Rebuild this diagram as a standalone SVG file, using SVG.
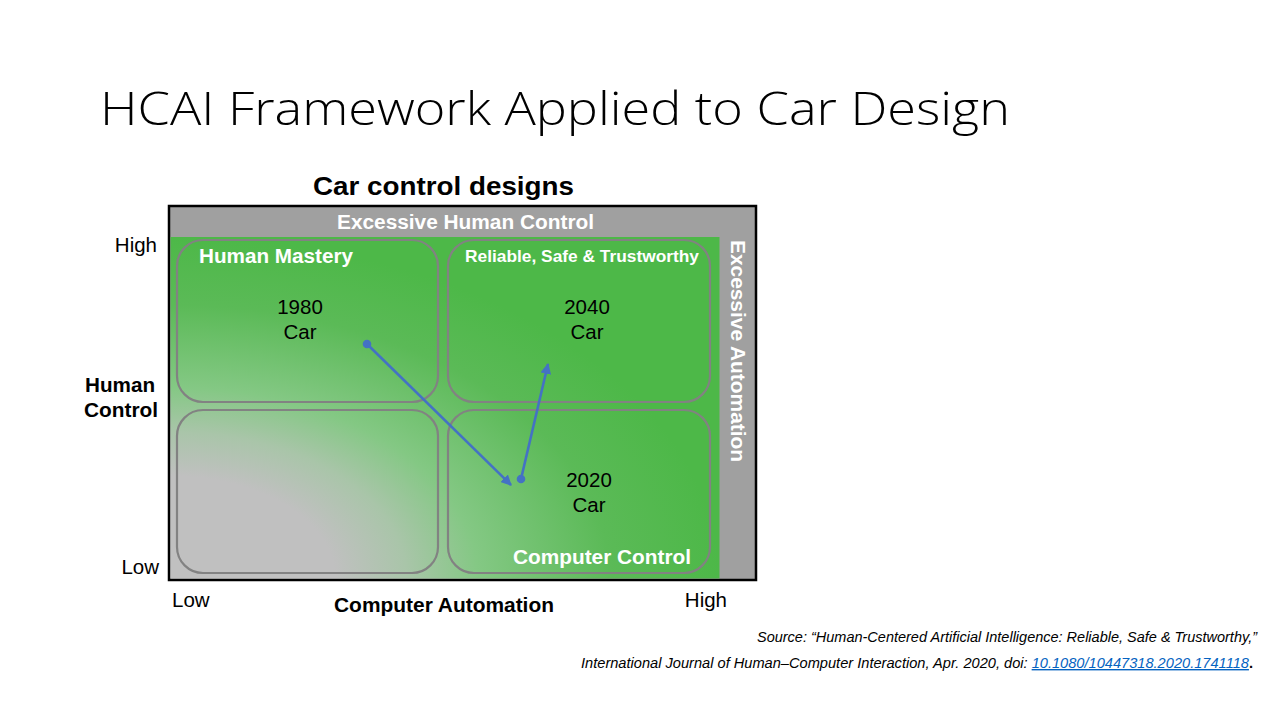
<svg xmlns="http://www.w3.org/2000/svg" width="1280" height="720" viewBox="0 0 1280 720">
  <style>
    .title { font-family: "Open Sans", "Liberation Sans", sans-serif; font-weight: 300; font-size: 46px; fill: #000; }
    .sans { font-family: "Liberation Sans", Arial, sans-serif; }
    .head { font-weight: bold; font-size: 25px; fill: #000; }
    .band { font-weight: bold; font-size: 20px; fill: #fff; }
    .quad { font-weight: bold; font-size: 20px; fill: #fff; }
    .quad-sm { font-weight: bold; font-size: 17px; fill: #fff; }
    .car { font-size: 20.5px; fill: #000; text-anchor: middle; }
    .axis { font-size: 20.5px; fill: #000; }
    .axis-b { font-weight: bold; font-size: 20.5px; fill: #000; }
    .cell { fill: none; stroke: #828282; stroke-width: 2.2; }
    .conn { stroke: #4472c4; stroke-width: 2.6; fill: none; }
    .src { font-family: "Liberation Sans", Arial, sans-serif; font-style: italic; font-size: 14px; fill: #000; }
  </style>
  <defs>
    <!-- grey in the low/low corner, fading out to green -->
    <radialGradient id="field" cx="0" cy="1" r="1" fx="0" fy="1">
      <stop offset="0" stop-color="#c0c0c0"/>
      <stop offset="0.3" stop-color="#c0c0c0"/>
      <stop offset="0.43" stop-color="#a9c5a9"/>
      <stop offset="0.56" stop-color="#84c884"/>
      <stop offset="0.8" stop-color="#5bba57"/>
      <stop offset="1" stop-color="#4db848"/>
    </radialGradient>
    <marker id="arrow" viewBox="0 0 10 10" refX="9" refY="5" markerWidth="4.2" markerHeight="4.2" orient="auto" markerUnits="strokeWidth">
      <path d="M0,0 L10,5 L0,10 z" fill="#4472c4"/>
    </marker>
  </defs>

  <rect width="1280" height="720" fill="#fff"/>

  <text class="title" x="100" y="125" textLength="910" lengthAdjust="spacingAndGlyphs">HCAI Framework Applied to Car Design</text>

  <g id="chart">
    <text class="sans head" x="313" y="195" textLength="261" lengthAdjust="spacingAndGlyphs">Car control designs</text>
    <!-- frame with grey margins -->
    <rect x="169" y="206" width="587" height="374" fill="#a0a0a0" stroke="#000" stroke-width="2.5"/>
    <rect x="170.5" y="237" width="549" height="341.5" fill="url(#field)"/>
    <text class="sans band" x="337" y="229" textLength="257" lengthAdjust="spacingAndGlyphs">Excessive Human Control</text>
    <text class="sans band" transform="translate(731,240) rotate(90)" textLength="222" lengthAdjust="spacingAndGlyphs">Excessive Automation</text>
  </g>

  <g id="human-mastery">
    <rect class="cell" x="177" y="240" width="261" height="162" rx="26"/>
    <text class="sans quad" x="199" y="263" textLength="154" lengthAdjust="spacingAndGlyphs">Human Mastery</text>
    <text class="sans car" x="300" y="314">1980</text>
    <text class="sans car" x="300" y="339">Car</text>
  </g>

  <g id="reliable-safe-trustworthy">
    <rect class="cell" x="448" y="240" width="262" height="162" rx="26"/>
    <text class="sans quad-sm" x="465" y="262" textLength="234" lengthAdjust="spacingAndGlyphs">Reliable, Safe &amp; Trustworthy</text>
    <text class="sans car" x="587" y="314">2040</text>
    <text class="sans car" x="587" y="339">Car</text>
  </g>

  <g id="low-low">
    <rect class="cell" x="177" y="410" width="261" height="163" rx="26"/>
  </g>

  <g id="computer-control">
    <rect class="cell" x="448" y="410" width="262" height="163" rx="26"/>
    <text class="sans car" x="589" y="487">2020</text>
    <text class="sans car" x="589" y="512">Car</text>
    <text class="sans quad" x="513" y="564" textLength="178" lengthAdjust="spacingAndGlyphs">Computer Control</text>
  </g>

  <g id="axes">
    <text class="sans axis" x="157" y="252" text-anchor="end">High</text>
    <text class="sans axis" x="159" y="574" text-anchor="end">Low</text>
    <text class="sans axis-b" x="85" y="392" textLength="70" lengthAdjust="spacingAndGlyphs">Human</text>
    <text class="sans axis-b" x="84" y="417" textLength="74" lengthAdjust="spacingAndGlyphs">Control</text>
    <text class="sans axis" x="172" y="607">Low</text>
    <text class="sans axis-b" x="334" y="612" textLength="220" lengthAdjust="spacingAndGlyphs">Computer Automation</text>
    <text class="sans axis" x="727" y="607" text-anchor="end">High</text>
  </g>

  <g id="connectors">
    <circle cx="367" cy="344" r="4.3" fill="#4472c4"/>
    <line class="conn" x1="367" y1="344" x2="511" y2="485" marker-end="url(#arrow)"/>
    <circle cx="521" cy="479" r="4.3" fill="#4472c4"/>
    <line class="conn" x1="521" y1="479" x2="548" y2="364" marker-end="url(#arrow)"/>
  </g>

  <g id="source">
    <text class="src" x="757" y="642" textLength="500" lengthAdjust="spacingAndGlyphs">Source: “Human-Centered Artificial Intelligence: Reliable, Safe &amp; Trustworthy,”</text>
    <text class="src" x="581" y="668" textLength="672" lengthAdjust="spacingAndGlyphs">International Journal of Human–Computer Interaction, Apr. 2020, doi: <tspan fill="#0563c1" text-decoration="underline">10.1080/10447318.2020.1741118</tspan><tspan font-style="normal" font-weight="bold">.</tspan></text>
  </g>
</svg>
